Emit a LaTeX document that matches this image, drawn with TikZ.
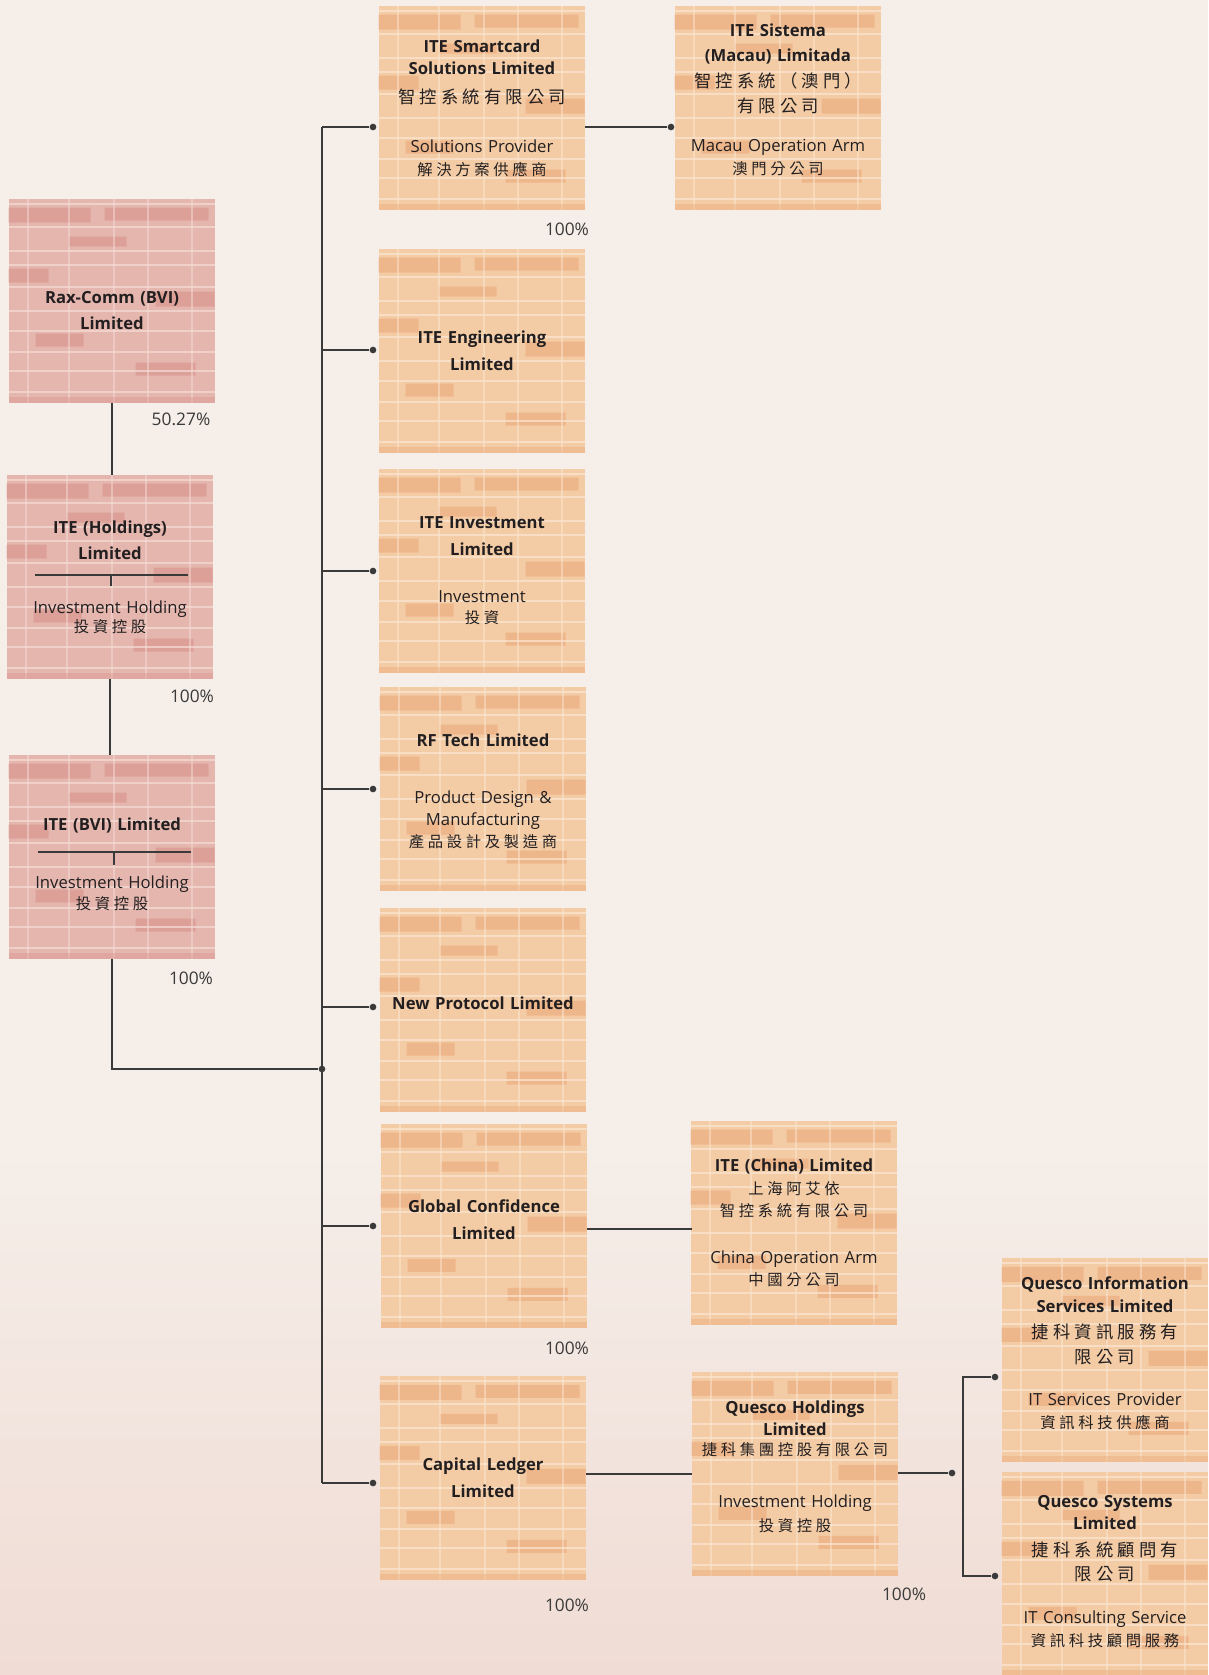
\documentclass[tikz,border=0pt]{standalone}
\usepackage{fontspec}
\usepackage{xcolor}
\setmainfont{Open Sans}
\newfontfamily\cjkbig[LetterSpace=24]{Noto Sans CJK TC}
\newcommand\cjkname{\cjkbig\fontsize{13}{16.8}\selectfont}
\newcommand\cjkrole{\cjkbig\fontsize{11.5}{16.8}\selectfont}
% struts that move a box text up or down
\newcommand\padbelow[1]{\rule[-#1]{0pt}{#1}}
\newcommand\padabove[1]{\rule{0pt}{#1}}
\definecolor{bgcol}{HTML}{F5EEE9}
\definecolor{bgpink}{HTML}{F0DCD4}
\definecolor{inkcol}{HTML}{231F20}
\definecolor{linecol}{HTML}{3A3A3A}
\definecolor{orbase}{HTML}{F3CBA4}
\definecolor{ordark}{HTML}{EBA273}
\definecolor{orlight}{HTML}{FBE7D2}
\definecolor{rdbase}{HTML}{E4B6AE}
\definecolor{rddark}{HTML}{D88C84}
\definecolor{rdlight}{HTML}{F4DDD7}
\pgfdeclarelayer{paper}
\pgfdeclarelayer{texture}
\pgfsetlayers{paper,texture,main}
% brick texture of one box, drawn from its north west corner
\newcommand\bricks[3]{%
  \fill[#1] (0,0) rectangle (206,204);
  \fill[#2,opacity=.5] (0,9) rectangle (82,24) (96,9) rectangle (200,22)
    (60,38) rectangle (118,48) (0,70) rectangle (40,84) (147,93) rectangle (206,108)
    (27,135) rectangle (75,148) (127,164) rectangle (187,177);
  \foreach \yy in {5,28,52,66,88,112,132,153,172,193}
    \draw[#3,opacity=.7,line width=1.6pt] (0,\yy) -- (206,\yy);
  \foreach \xx in {19,60,105,139,183}
    \draw[#3,opacity=.5,line width=1.3pt] (\xx,0) -- (\xx,204);
  \fill[#2,opacity=.35] (0,198) rectangle (206,204);
}

\begin{document}
\begin{tikzpicture}[x=0.75pt,y=-0.75pt,
  box/.style={minimum width=154.5pt,minimum height=153pt,inner sep=0pt,
    align=center,text width=152pt,text=inkcol},
  link/.style={draw=linecol,line width=0.9pt},
  dot/.style={circle,fill=linecol,inner sep=0pt,minimum size=5pt},
  share/.style={font=\fontsize{13}{15}\selectfont,text=linecol},
  font=\fontsize{12.5}{16.8}\selectfont]

% background
\begin{pgfonlayer}{paper}
\fill[bgcol] (0,0) rectangle (1208,1675);
\shade[top color=bgcol,bottom color=bgpink] (0,1150) rectangle (1208,1675);
\end{pgfonlayer}
\useasboundingbox (0,0) rectangle (1208,1675);

% holding chain
\node[box] (rax) at (112,301) {\padabove{23.5pt}\bfseries Rax-Comm (BVI)\\[3.2pt]\bfseries Limited};
\node[box] (hold) at (110,577) {{\bfseries ITE (Holdings)\\[3.2pt]Limited}\\[23.2pt]
  Investment Holding\\[-2.4pt]{\cjkrole 投資控股}};
\node[box] (bvi) at (112,857) {{\padabove{20pt}\bfseries ITE (BVI) Limited}\\[27.2pt]
  Investment Holding\\[-1.6pt]{\cjkrole 投資控股}};

% subsidiaries
\node[box] (smart) at (482,108) {{\bfseries ITE Smartcard\\Solutions Limited}\\[4.8pt]
  {\cjkname 智控系統有限公司}\\[20pt]Solutions Provider\\{\cjkrole 解決方案供應商}};
\node[box] (sistema) at (778,108) {{\bfseries ITE Sistema\\[1.6pt](Macau) Limitada}\\[2.4pt]
  {\cjkname 智控系統（澳門）}\\[2.4pt]{\cjkname 有限公司}\\[12pt]
  Macau Operation Arm\\[0.8pt]{\cjkrole 澳門分公司}\padbelow{13pt}};
\node[box] (eng) at (482,351) {\bfseries ITE Engineering\\[3.2pt]\bfseries Limited};
\node[box] (inv) at (482,571) {{\bfseries ITE Investment\\[3.2pt]Limited}\\[18.4pt]
  Investment\\[-0.8pt]{\cjkrole 投資}};
\node[box] (rf) at (483,789) {{\padabove{13pt}\bfseries RF Tech Limited}\\[26.4pt]
  Product Design \&\\[-0.8pt]Manufacturing\\{\cjkrole 產品設計及製造商}};
\node[box] (newp) at (483,1010) {\bfseries New Protocol Limited\padbelow{11pt}};
\node[box] (glob) at (484,1226) {\bfseries Global Confidence\\[3.2pt]\bfseries Limited\padbelow{10pt}};
\node[box] (china) at (794,1223) {{\bfseries ITE (China) Limited}\\
  {\cjkrole 上海阿艾依}\\{\cjkrole 智控系統有限公司}\\[18.4pt]
  China Operation Arm\\{\cjkrole 中國分公司}};
\node[box] (cap) at (483,1478) {\bfseries Capital Ledger\\[3.2pt]\bfseries Limited};
\node[box] (qhold) at (795,1474) {{\bfseries Quesco Holdings\\[-0.8pt]Limited}\\[-1.6pt]
  {\cjkrole 捷科集團控股有限公司}\\[22.4pt]Investment Holding\\[0.8pt]{\cjkrole 投資控股}\padbelow{12pt}};
\node[box] (qinfo) at (1105,1360) {{\bfseries Quesco Information\\Services Limited}\\[3.2pt]
  {\cjkname 捷科資訊服務有}\\[1.6pt]{\cjkname 限公司}\\[15.2pt]
  IT Services Provider\\{\cjkrole 資訊科技供應商}\padbelow{11pt}};
\node[box] (qsys) at (1105,1574) {{\bfseries Quesco Systems\\Limited}\\[3.2pt]
  {\cjkname 捷科系統顧問有}\\[1.6pt]{\cjkname 限公司}\\[15.2pt]
  IT Consulting Service\\{\cjkrole 資訊科技顧問服務}\padbelow{5pt}};

% brick faces under the texts
\begin{pgfonlayer}{texture}
\foreach \n in {rax,hold,bvi}
  {\begin{scope}[shift={(\n.north west)}]\bricks{rdbase}{rddark}{rdlight}\end{scope}}
\foreach \n in {smart,sistema,eng,inv,rf,newp,glob,china,cap,qhold,qinfo,qsys}
  {\begin{scope}[shift={(\n.north west)}]\bricks{orbase}{ordark}{orlight}\end{scope}}
\end{pgfonlayer}

% dividers in the holding boxes
\draw[link,line width=0.8pt] (35,575) -- (188,575) (111,575) -- (111,586);
\draw[link,line width=0.8pt] (38,852) -- (191,852) (114,852) -- (114,865);

% junction dots
\coordinate (busN) at (322,127);
\coordinate (busS) at (322,1483);
\coordinate (brk) at (963,0);
\node[dot] (jn) at (322,1069) {};
\node[dot] (d1) at (373,127) {};
\node[dot] (d2) at (373,350) {};
\node[dot] (d3) at (373,571) {};
\node[dot] (d4) at (373,789) {};
\node[dot] (d5) at (373,1007) {};
\node[dot] (d6) at (373,1226) {};
\node[dot] (d7) at (373,1483) {};
\node[dot] (dsis) at (671,127) {};
\node[dot] (dq) at (952,1473) {};
\node[dot] (dqi) at (995,1377) {};
\node[dot] (dqs) at (995,1576) {};

% connectors
\draw[link] (rax) -- (rax |- hold.north);
\draw[link] (hold) -- (hold |- bvi.north);
\draw[link] (bvi) |- (jn);
\draw[link] (busN) -- (busS);
\foreach \d in {d1,d2,d3,d4,d5,d6,d7}
  \draw[link] (\d) -- (\d -| busN);
\draw[link] (d1 -| smart.east) -- (dsis);
\draw[link] (glob.east) ++(0,3) -- ++(104,0) coordinate (gc) (gc) -- (gc -| china.west);
\draw[link] (qhold.west -| cap.east) -- (qhold.west);
\draw[link] (dq -| qhold.east) -- (dq);
\draw[link] (dqi) -- (dqi -| brk) |- (dqs);

% shareholdings
\node[share] (p1) at (181,419) {50.27\%};
\node[share] (p2) at (192,696) {100\%};
\node[share] (p3) at (191,978) {100\%};
\node[share] (p4) at (567,229) {100\%};
\node[share] (p5) at (567,1348) {100\%};
\node[share] (p6) at (567,1605) {100\%};
\node[share] (p7) at (904,1594) {100\%};
\end{tikzpicture}
\end{document}
